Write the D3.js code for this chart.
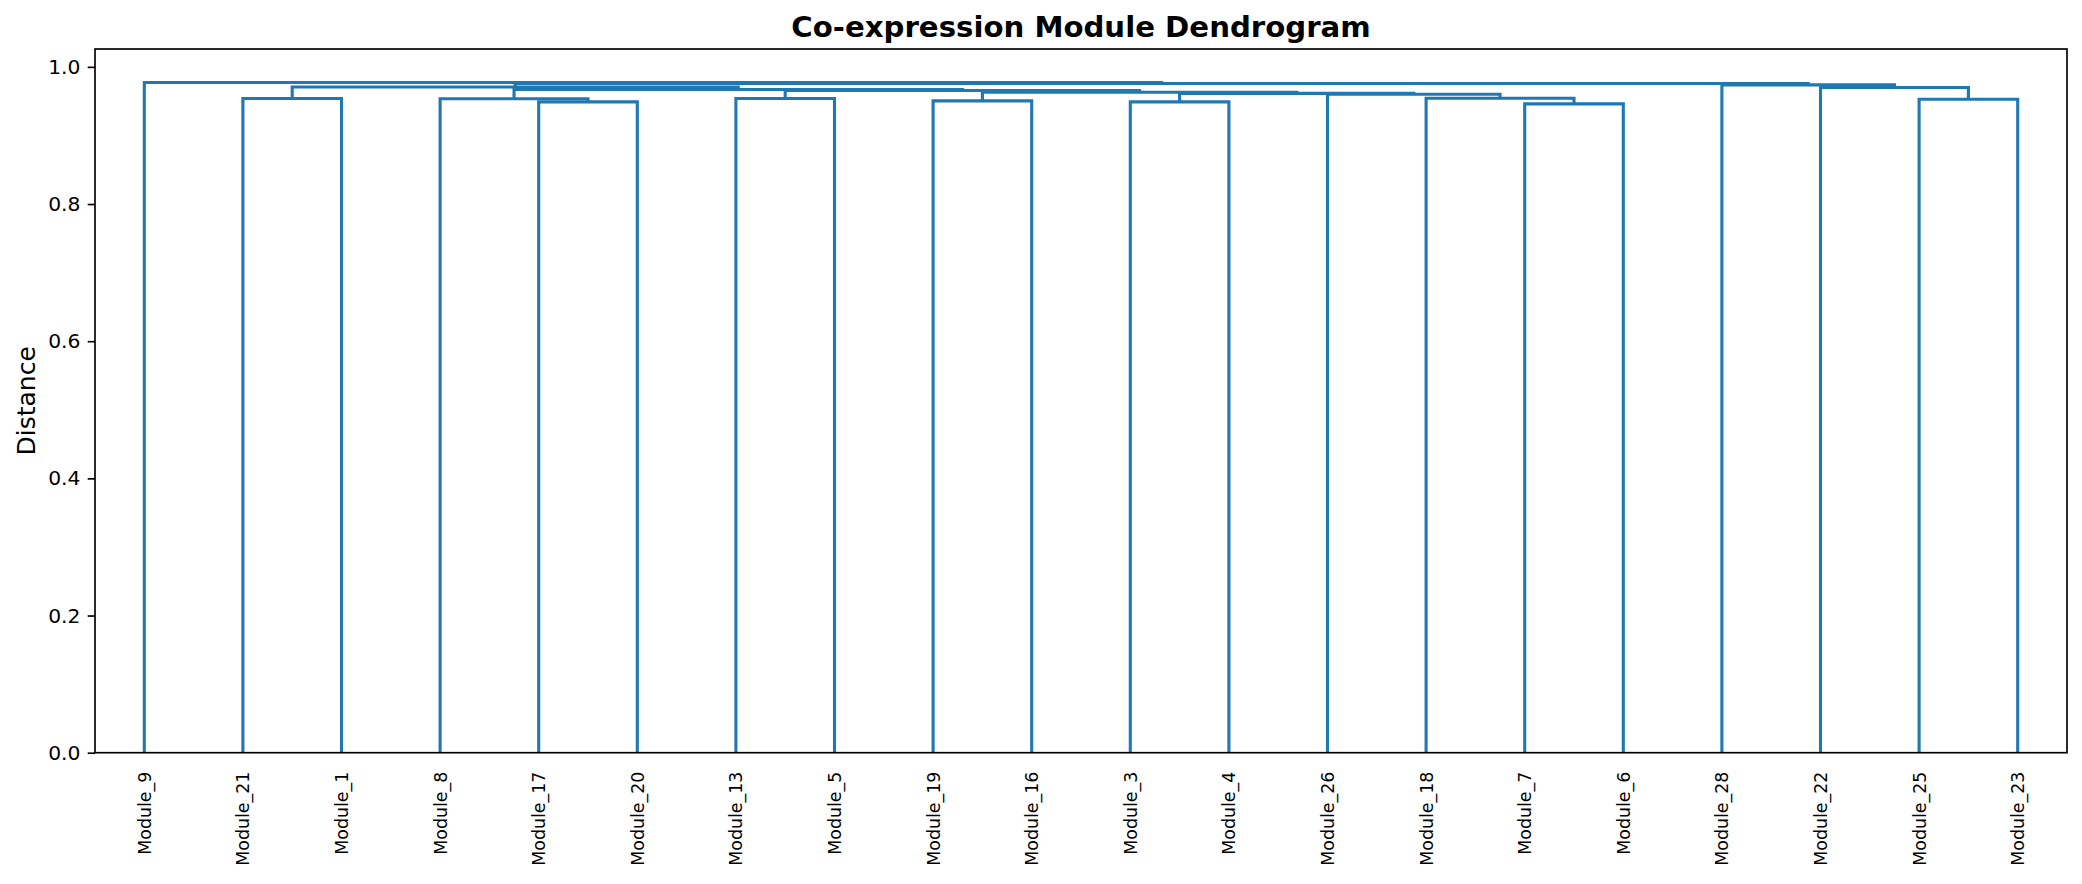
<!DOCTYPE html>
<html>
<head>
<meta charset="utf-8">
<script src="https://cdn.jsdelivr.net/npm/d3@7"></script>
<style>
  body { margin: 0; background: #fff; }
  text { font-family: "DejaVu Sans", sans-serif; fill: #000; }
</style>
</head>
<body>
<svg id="chart"></svg>
<script>
/* Leaf order along the x-axis. */
const leafLabels = ["Module_9", "Module_21", "Module_1", "Module_8", "Module_17", "Module_20",
  "Module_13", "Module_5", "Module_19", "Module_16", "Module_3", "Module_4", "Module_26",
  "Module_18", "Module_7", "Module_6", "Module_28", "Module_22", "Module_25", "Module_23"]

/* Merges: left child, right child (leaf name or "m<index>") and height. */
const mergeLeft = ["Module_17", "Module_21", "Module_8", "Module_13", "Module_19", "Module_3",
  "Module_7", "Module_18", "Module_26", "m5", "m4", "m3", "m2", "m1", "Module_25", "Module_22",
  "Module_28", "m13", "Module_9"]
const mergeRight = ["Module_20", "Module_1", "m0", "Module_5", "Module_16", "Module_4",
  "Module_6", "m6", "m7", "m8", "m9", "m10", "m11", "m12", "Module_23", "m14",
  "m15", "m16", "m17"]
const mergeHeights = [0.9489, 0.9539, 0.9536, 0.9539, 0.9504, 0.9489,
  0.9460, 0.9542, 0.9600, 0.9613, 0.9630, 0.9656, 0.9670, 0.9706, 0.9529, 0.9699,
  0.9737, 0.9757, 0.9772]

/* Y ticks. */
const yTicks = [0.0, 0.2, 0.4, 0.6, 0.8, 1.0]

/* Size and margins. */
const width = 2082
const height = 884
const margin = { left: 95, right: 15, top: 49, bottom: 131.3 }
const color = "#1f77b4"

const svg = d3.select("#chart")
  .attr("width", width)
  .attr("height", height)
  .style("background", "#fff")

/* Scales. */
const xScale = d3.scalePoint()
  .domain(leafLabels)
  .range([margin.left, width - margin.right])
  .padding(0.5)

const yScale = d3.scaleLinear()
  .domain([0, d3.max(mergeHeights) * 1.05])
  .range([height - margin.bottom, margin.top])

/* Position of a node: leaf or merge. */
const nodePos = (id) => {
  if (!id.startsWith("Module")) {
    const k = +id.slice(1)
    const a = nodePos(mergeLeft[k])
    const b = nodePos(mergeRight[k])
    return { x: (a.x + b.x) / 2, h: mergeHeights[k] }
  }
  return { x: xScale(id), h: 0 }
}

/* Links. */
const links = mergeHeights.map((h, k) => {
  const a = nodePos(mergeLeft[k])
  const b = nodePos(mergeRight[k])
  return { a, b, h }
})

svg.append("g")
  .selectAll("path")
  .data(links)
  .join("path")
  .attr("d", d => `M${d.a.x},${yScale(d.a.h)}V${yScale(d.h)}H${d.b.x}V${yScale(d.b.h)}`)
  .attr("fill", "none")
  .attr("stroke", color)
  .attr("stroke-width", 3.1)

/* Y axis. */
const yAxis = d3.axisLeft(yScale)
  .tickValues(yTicks)
  .tickFormat(d3.format(".1f"))
  .tickSize(7.3)
  .tickPadding(7.3)

const gy = svg.append("g")
  .attr("transform", `translate(${margin.left},0)`)
  .call(yAxis)
gy.select(".domain").remove()
gy.selectAll("line").attr("stroke", "#000").attr("stroke-width", 1.67)
gy.selectAll("text")
  .style("font-size", "20.3px")
  .style("font-family", "DejaVu Sans")

/* X axis with rotated leaf labels, no tick marks. */
const xAxis = d3.axisBottom(xScale)
  .tickSize(0)
  .tickPadding(0)

const gx = svg.append("g")
  .attr("transform", `translate(0,${height - margin.bottom})`)
  .call(xAxis)
gx.select(".domain").remove()
gx.selectAll("text")
  .attr("transform", "rotate(-90)")
  .attr("text-anchor", "end")
  .attr("x", -19)
  .attr("y", 0)
  .attr("dy", "0.35em")
  .style("font-size", "17.4px")
  .style("font-family", "DejaVu Sans")

/* Frame. */
svg.append("rect")
  .attr("x", margin.left)
  .attr("y", margin.top)
  .attr("width", width - margin.left - margin.right)
  .attr("height", height - margin.top - margin.bottom)
  .attr("fill", "none")
  .attr("stroke", "#000")
  .attr("stroke-width", 1.67)

/* Title and y label. */
svg.append("text")
  .attr("x", (margin.left + width - margin.right) / 2)
  .attr("y", 36.5)
  .attr("text-anchor", "middle")
  .style("font-size", "29.2px")
  .style("font-weight", "bold")
  .text("Co-expression Module Dendrogram")

svg.append("text")
  .attr("transform", `translate(35,${(margin.top + height - margin.bottom) / 2}) rotate(-90)`)
  .attr("text-anchor", "middle")
  .style("font-size", "25px")
  .text("Distance")
</script>
</body>
</html>
